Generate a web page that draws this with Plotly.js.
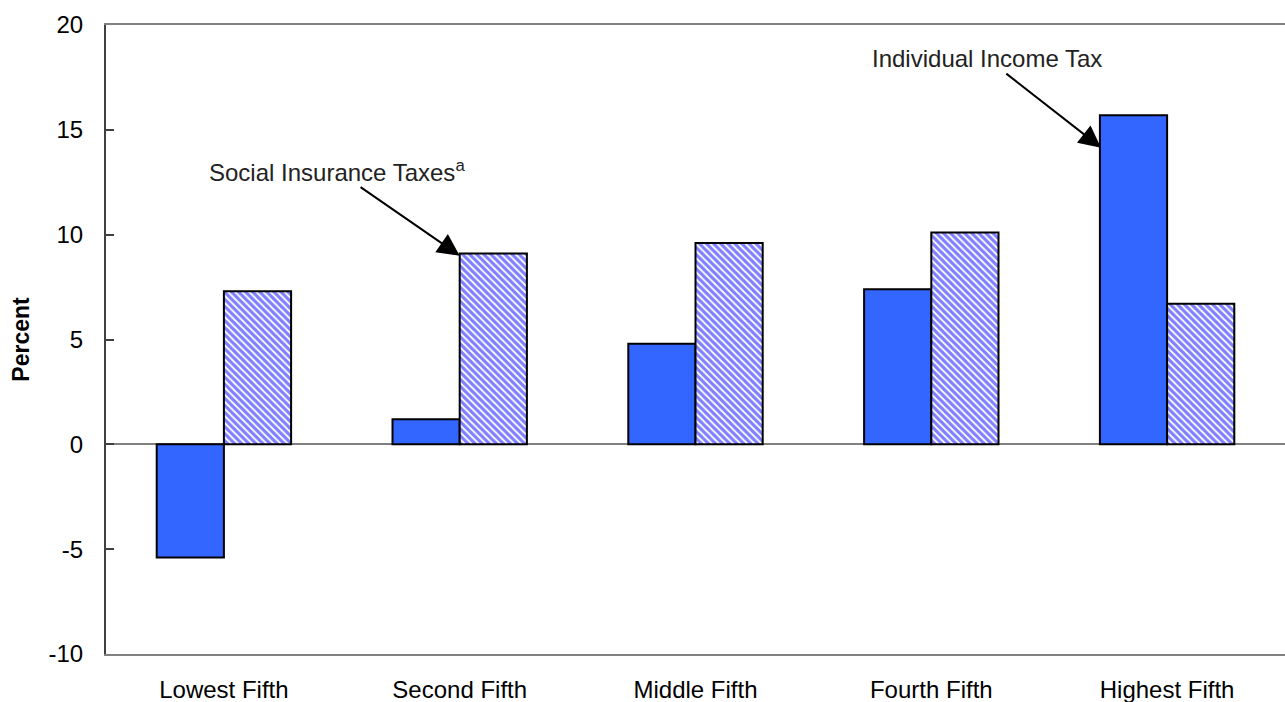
<!DOCTYPE html>
<html>
<head>
<meta charset="utf-8">
<script src="https://cdn.plot.ly/plotly-3.0.1.min.js"></script>
<style>html,body{margin:0;padding:0;background:#fff;}#chart{width:1285px;height:702px;}</style>
</head>
<body>
<div id="chart"></div>
<script>
const categories = ["Lowest Fifth", "Second Fifth", "Middle Fifth", "Fourth Fifth", "Highest Fifth"];
const individualIncomeTax = [-5.4, 1.2, 4.8, 7.4, 15.7];
const socialInsuranceTaxes = [7.3, 9.1, 9.6, 10.1, 6.7];
const yTickValues = [-10, -5, 0, 5, 10, 15, 20];
const yTickLabels = ["-10", "-5", "0", "5", "10", "15", "20"];

const FONT = "Liberation Sans, Arial, sans-serif";

const traces = [
  {
    type: "bar", name: "Individual Income Tax",
    x: categories, y: individualIncomeTax,
    marker: { color: "#3366FF", line: { color: "#000000", width: 2 } },
    hoverinfo: "skip"
  },
  {
    type: "bar", name: "Social Insurance Taxes",
    x: categories, y: socialInsuranceTaxes,
    marker: {
      color: "#FFFFFF",
      pattern: { shape: "\\", fgcolor: "#0000FF", bgcolor: "#FFFFFF", size: 5, solidity: 0.65, fillmode: "overlay" },
      line: { color: "#000000", width: 2 }
    },
    hoverinfo: "skip"
  }
];

const layout = {
  width: 1285, height: 702,
  margin: { l: 106, r: 0, t: 25, b: 48 },
  paper_bgcolor: "#FFFFFF", plot_bgcolor: "#FFFFFF",
  showlegend: false,
  barmode: "group", bargap: 0.43, bargroupgap: 0,
  font: { family: FONT, size: 24, color: "#000000" },
  xaxis: {
    type: "category",
    showline: true, linecolor: "#808080", linewidth: 2, mirror: true,
    showgrid: false, ticks: "", zeroline: false,
    tickfont: { family: FONT, size: 24, color: "#000000" },
    ticklabelstandoff: 13
  },
  yaxis: {
    range: [-10, 20], tickvals: yTickValues, ticktext: yTickLabels,
    showline: true, linecolor: "#404040", linewidth: 2,
    ticks: "inside", ticklen: 8, tickwidth: 2, tickcolor: "#404040",
    showgrid: false,
    zeroline: true, zerolinecolor: "#808080", zerolinewidth: 2,
    tickfont: { family: FONT, size: 24, color: "#000000" },
    ticklabelstandoff: 16,
    title: { text: "<b>Percent</b>", font: { family: FONT, size: 23, color: "#000000" }, standoff: 12 }
  },
  annotations: [
    { xref: "x", yref: "y", x: 1, y: 9.0, ax: -123, ay: -85, axref: "pixel", ayref: "pixel",
      text: "Social Insurance Taxes<sup style='font-size:14px'>a</sup>", font: { family: FONT, size: 24, color: "#222222" },
      showarrow: true, arrowhead: 2, arrowsize: 2.2, arrowwidth: 2, arrowcolor: "#000000" },
    { xref: "x", yref: "y", x: 3.72, y: 14.15, ax: -114, ay: -89, axref: "pixel", ayref: "pixel",
      text: "Individual Income Tax", font: { family: FONT, size: 24, color: "#222222" },
      showarrow: true, arrowhead: 2, arrowsize: 2.2, arrowwidth: 2, arrowcolor: "#000000" }
  ]
};

Plotly.newPlot("chart", traces, layout, { displayModeBar: false, staticPlot: true });
</script>
</body>
</html>
